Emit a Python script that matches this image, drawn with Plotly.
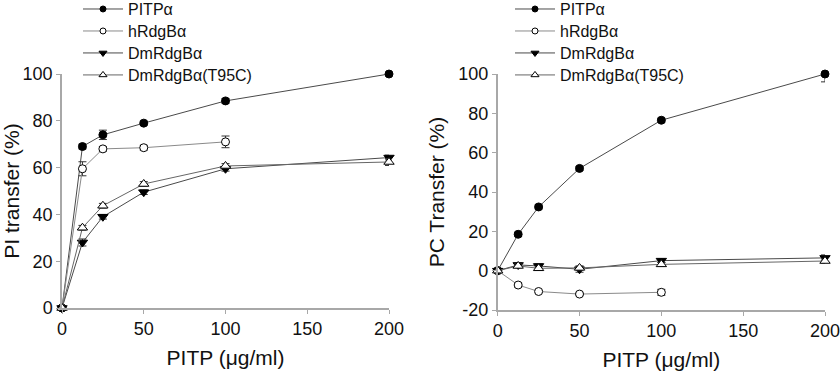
import plotly.graph_objects as go

# ---- data ----
conc = [0, 12.5, 25, 50, 100, 200]
conc_h = [0, 12.5, 25, 50, 100]

series_names = ["PITPα", "hRdgBα", "DmRdgBα", "DmRdgBα(T95C)"]

# PI transfer (%)
pi_pitp = [0, 69, 74, 79, 88.5, 100]
pi_pitp_err = [0, 1, 2, 0.8, 1, 0.8]
pi_h = [0, 59.5, 68, 68.5, 71]
pi_h_err = [0, 3, 1, 1, 2.5]
pi_dm = [0, 28, 39, 49.5, 59.5, 64.3]
pi_dm_err = [0, 1.5, 1, 1, 1, 1]
pi_t95 = [0, 34.3, 43.7, 53, 60.7, 62.4]
pi_t95_err = [0, 1, 1, 1, 1, 1.5]

# PC transfer (%)
pc_pitp = [0, 18.5, 32.4, 52, 76.5, 100]
pc_pitp_err = [0, 1, 1, 1, 1, 4]
pc_h = [0, -7.3, -10.6, -11.9, -11]
pc_h_err = [0, 1, 0.6, 0.6, 1.5]
pc_dm = [0, 2.9, 2.4, 0.7, 5.1, 6.5]
pc_dm_err = [0, 1, 1, 1.5, 1, 1.5]
pc_t95 = [0, 2.4, 1.2, 1.4, 3.2, 4.9]
pc_t95_err = [0, 1, 1, 1, 1, 1]

x_ticks = [0, 50, 100, 150, 200]
pi_ticks = [0, 20, 40, 60, 80, 100]
pc_ticks = [-20, 0, 20, 40, 60, 80, 100]

symbols = ["circle", "circle", "triangle-down", "triangle-up"]
fills = ["black", "white", "black", "white"]
sizes = [8, 8, 9, 9]
legend_sizes = [6, 6, 7, 7]
line_colors = ["#4a4a4a", "#8a8a8a", "#4a4a4a", "#666666"]
font_family = "Liberation Sans, Arial, sans-serif"

fig = go.Figure()

panels = [
    ("x", "y", "legend", [conc, conc_h, conc, conc],
     [pi_pitp, pi_h, pi_dm, pi_t95], [pi_pitp_err, pi_h_err, pi_dm_err, pi_t95_err]),
    ("x2", "y2", "legend2", [conc, conc_h, conc, conc],
     [pc_pitp, pc_h, pc_dm, pc_t95], [pc_pitp_err, pc_h_err, pc_dm_err, pc_t95_err]),
]

for xa, ya, lg, xs, ys, errs in panels:
    for i in range(4):
        fig.add_trace(go.Scatter(
            x=xs[i], y=ys[i], name=series_names[i], mode="lines+markers",
            xaxis=xa, yaxis=ya, showlegend=False, cliponaxis=False,
            line=dict(color=line_colors[i], width=1),
            marker=dict(size=sizes[i], symbol=symbols[i], color=fills[i],
                        line=dict(color="black", width=1)),
            error_y=dict(type="data", array=errs[i], visible=True,
                         color="#333333", thickness=1, width=4),
        ))
    # legend entries (smaller symbols, as in the original key)
    for i in range(4):
        fig.add_trace(go.Scatter(
            x=[None], y=[None], mode="lines+markers",
            name='<span style="font-size:16px">' + series_names[i] + "</span>",
            xaxis=xa, yaxis=ya, legend=lg, showlegend=True,
            line=dict(color=line_colors[i], width=1),
            marker=dict(size=legend_sizes[i], symbol=symbols[i], color=fills[i],
                        line=dict(color="black", width=1)),
        ))

axis_common = dict(
    showline=True, linecolor="#a8a8a8", linewidth=1.5,
    ticks="outside", ticklen=4, tickcolor="#a8a8a8", tickwidth=1,
    showgrid=False, zeroline=False, ticklabeloverflow="allow",
    tickfont=dict(size=18, color="#111111", family=font_family),
    automargin=False,
)

legend_common = dict(
    xanchor="left", yanchor="top", bgcolor="rgba(0,0,0,0)",
    font=dict(size=14.6, family=font_family, color="#111111"),
    itemwidth=40, tracegroupgap=0,
)

fig.update_layout(
    width=840, height=375,
    margin=dict(l=0, r=0, t=0, b=0, autoexpand=False),
    paper_bgcolor="white", plot_bgcolor="white",
    font=dict(family=font_family, color="#111111"),
    showlegend=True,
    xaxis=dict(domain=[62 / 840, 389 / 840], range=[0, 200], tickvals=x_ticks,
               anchor="y",
               title=dict(text="PITP (μg/ml)", font=dict(size=21), standoff=12), **axis_common),
    yaxis=dict(domain=[(375 - 308) / 375, (375 - 74) / 375], range=[0, 100],
               tickvals=pi_ticks, ticktext=[str(v) for v in pi_ticks], anchor="x",
               title=dict(text="PI transfer (%)", font=dict(size=21), standoff=8), **axis_common),
    xaxis2=dict(domain=[497.7 / 840, 825 / 840], range=[0, 200], tickvals=x_ticks,
                anchor="y2",
                title=dict(text="PITP (μg/ml)", font=dict(size=21), standoff=12), **axis_common),
    yaxis2=dict(domain=[(375 - 310) / 375, (375 - 74) / 375], range=[-20, 100],
                tickvals=pc_ticks, ticktext=[str(v) for v in pc_ticks], anchor="x2",
                title=dict(text="PC Transfer (%)", font=dict(size=21), standoff=8), **axis_common),
    legend=dict(x=78 / 840, y=1 + 7 / 375, **legend_common),
    legend2=dict(x=510 / 840, y=1 + 7 / 375, **legend_common),
)

fig.write_html("out.html", config={"displayModeBar": False},
               post_script="document.body.style.margin='0';document.body.style.overflow='hidden';")
